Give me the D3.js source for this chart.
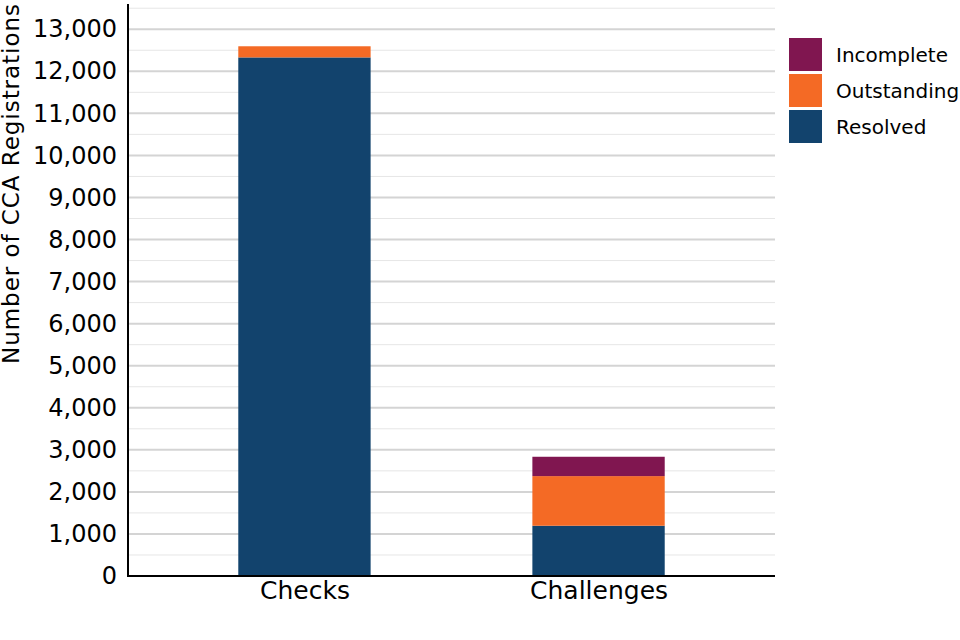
<!DOCTYPE html>
<html>
<head>
<meta charset="utf-8">
<script src="https://cdn.jsdelivr.net/npm/d3@7"></script>
<style>
  body { margin: 0; background: #fff; }
  text { font-family: "DejaVu Sans", sans-serif; }
</style>
</head>
<body>
<svg id="drawing_region"></svg>
<script>
const categories = [ 'Checks', 'Challenges' ];
const seriesNames = [ 'Resolved', 'Outstanding', 'Incomplete' ];
const resolved = [ 12330, 1195 ];
const outstanding = [ 265, 1180 ];
const incomplete = [ 0, 460 ];
const yTicks = [ 0, 1000, 2000, 3000, 4000, 5000, 6000, 7000, 8000, 9000, 10000, 11000, 12000, 13000 ];
const colours = [ '#12436D', '#F46A25', '#801650' ];

const config = {
    width: 960,
    height: 640,
    margin: { top: 4, right: 185, bottom: 64, left: 128 }
};

const data = categories.map( ( c, i ) => ( {
    category: c,
    Resolved: resolved[i],
    Outstanding: outstanding[i],
    Incomplete: incomplete[i]
} ) );

const inner_w = config.width - config.margin.left - config.margin.right;
const inner_h = config.height - config.margin.top - config.margin.bottom;

const svg = d3.select( '#drawing_region' )
    .attr( 'width', config.width )
    .attr( 'height', config.height );

const chart = svg.append( 'g' )
    .attr( 'transform', `translate(${config.margin.left}, ${config.margin.top})` );

const xscale = d3.scalePoint()
    .domain( categories )
    .range( [ 0, inner_w ] )
    .padding( 0.6 );
const barWidth = xscale.step() * 0.45;

const yscale = d3.scaleLinear()
    .domain( [ 0, 13600 ] )
    .range( [ inner_h, 0 ] );

// minor grid lines
const minor = d3.range( 500, 13600, 1000 );
chart.selectAll( '.minor' )
    .data( minor )
    .enter()
    .append( 'line' )
    .attr( 'x1', 0 ).attr( 'x2', inner_w )
    .attr( 'y1', d => yscale( d ) ).attr( 'y2', d => yscale( d ) )
    .attr( 'stroke', '#e6e6e6' )
    .attr( 'stroke-width', 1 );

// major grid lines
chart.selectAll( '.major' )
    .data( yTicks.slice( 1 ) )
    .enter()
    .append( 'line' )
    .attr( 'x1', 0 ).attr( 'x2', inner_w )
    .attr( 'y1', d => yscale( d ) ).attr( 'y2', d => yscale( d ) )
    .attr( 'stroke', '#d4d4d4' )
    .attr( 'stroke-width', 2 );

const stack = d3.stack().keys( seriesNames );
const layers = stack( data );

chart.selectAll( '.layer' )
    .data( layers )
    .enter()
    .append( 'g' )
    .attr( 'fill', ( d, i ) => colours[i] )
    .selectAll( 'rect' )
    .data( d => d )
    .enter()
    .append( 'rect' )
    .attr( 'x', d => xscale( d.data.category ) - barWidth / 2 )
    .attr( 'width', barWidth )
    .attr( 'y', d => yscale( d[1] ) )
    .attr( 'height', d => yscale( d[0] ) - yscale( d[1] ) );

// y axis
const yaxis = d3.axisLeft( yscale )
    .tickValues( yTicks )
    .tickFormat( d3.format( ',' ) )
    .tickSize( 0 )
    .tickPadding( 11 );
const yg = chart.append( 'g' ).call( yaxis );
yg.select( '.domain' ).remove();
yg.selectAll( 'text' ).style( 'font-size', '24px' ).attr( 'fill', '#000' );

// x axis
const xaxis = d3.axisBottom( xscale ).tickSize( 0 ).tickPadding( 5 );
const xg = chart.append( 'g' )
    .attr( 'transform', `translate(0, ${inner_h})` )
    .call( xaxis );
xg.select( '.domain' ).remove();
xg.selectAll( 'text' ).style( 'font-size', '25px' ).attr( 'fill', '#000' );

// axis lines
chart.append( 'line' )
    .attr( 'x1', 0 ).attr( 'x2', 0 )
    .attr( 'y1', 0 ).attr( 'y2', inner_h + 1 )
    .attr( 'stroke', '#000' ).attr( 'stroke-width', 2 );
chart.append( 'line' )
    .attr( 'x1', -1 ).attr( 'x2', inner_w )
    .attr( 'y1', inner_h ).attr( 'y2', inner_h )
    .attr( 'stroke', '#000' ).attr( 'stroke-width', 2 );

// y title
svg.append( 'text' )
    .attr( 'transform', 'translate(19, 184) rotate(-90)' )
    .attr( 'text-anchor', 'middle' )
    .attr( 'textLength', 360 )
    .attr( 'lengthAdjust', 'spacing' )
    .style( 'font-size', '23px' )
    .text( 'Number of CCA Registrations' );

// legend
const legendItems = seriesNames.slice().reverse();
const legendColours = colours.slice().reverse();
const legend = svg.append( 'g' )
    .attr( 'transform', 'translate(789, 38)' );
const item = legend.selectAll( '.item' )
    .data( legendItems )
    .enter()
    .append( 'g' )
    .attr( 'transform', ( d, i ) => `translate(0, ${i * 36})` );
item.append( 'rect' )
    .attr( 'width', 33 ).attr( 'height', 33 )
    .attr( 'fill', ( d, i ) => legendColours[i] );
item.append( 'text' )
    .attr( 'x', 47 ).attr( 'y', 17 )
    .attr( 'dy', '0.35em' )
    .style( 'font-size', '20px' )
    .text( d => d );
</script>
</body>
</html>
